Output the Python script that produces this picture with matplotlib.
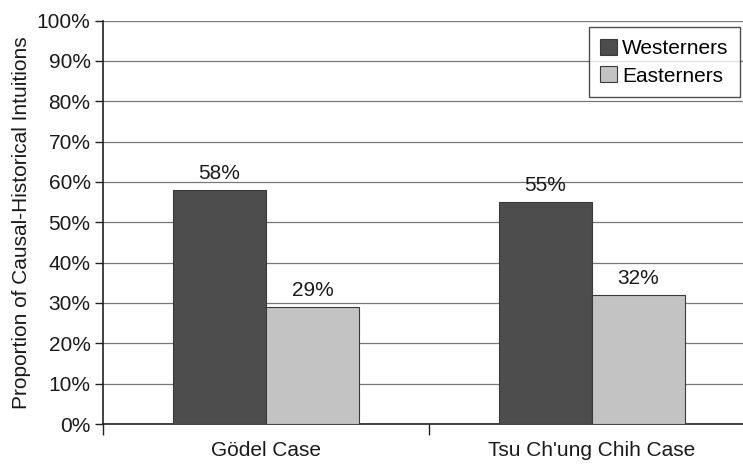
import matplotlib
matplotlib.use("Agg")
import matplotlib.pyplot as plt
import numpy as np

plt.rcParams['font.family'] = ['Liberation Sans', 'DejaVu Sans']

categories = ["Gödel Case", "Tsu Ch'ung Chih Case"]
series_names = ["Westerners", "Easterners"]
westerners = [58, 55]
easterners = [29, 32]
yticks = [0, 10, 20, 30, 40, 50, 60, 70, 80, 90, 100]

colors = ["#4d4d4d", "#c3c3c3"]
fs = 15

fig = plt.figure(figsize=(7.43, 4.66), dpi=100)
ax = fig.add_axes([103 / 743, 1 - 424 / 466, 652 / 743, (424 - 20.5) / 466])

x = np.arange(len(categories))
w = 0.285
b1 = ax.bar(x - w / 2, westerners, w, color=colors[0], edgecolor="#3a3a3a",
            linewidth=0.8, label=series_names[0], zorder=3)
b2 = ax.bar(x + w / 2, easterners, w, color=colors[1], edgecolor="#3a3a3a",
            linewidth=0.8, label=series_names[1], zorder=3)

for bars, vals in ((b1, westerners), (b2, easterners)):
    for rect, v in zip(bars, vals):
        ax.annotate(f"{v}%", (rect.get_x() + rect.get_width() / 2, v),
                    xytext=(0, 5), textcoords="offset points",
                    ha="center", va="bottom", fontsize=fs, color="#1a1a1a", zorder=4)

ax.set_xlim(-0.5, len(categories) - 0.5)
ax.set_ylim(0, 100)
ax.set_yticks(yticks)
ax.set_yticklabels([f"{t}%" for t in yticks], fontsize=fs, color="#1a1a1a")
ax.yaxis.grid(True, color="#777777", linewidth=0.9, zorder=0)
ax.set_axisbelow(True)

ax.set_xticks(x)
ax.set_xticklabels(categories, fontsize=fs, color="#1a1a1a")
ax.set_xticks(np.arange(-0.5, len(categories), 1.0), minor=True)
ax.tick_params(axis="x", which="major", length=0, pad=12)
ax.tick_params(axis="x", which="minor", length=8, width=1, color="#222222", direction="out")
ax.tick_params(axis="y", length=6, width=1, color="#222222", direction="out", pad=3)

for s in ("top", "right"):
    ax.spines[s].set_visible(False)
for s in ("left", "bottom"):
    ax.spines[s].set_color("#222222")
    ax.spines[s].set_linewidth(1.2)

ax.set_ylabel("Proportion of Causal-Historical Intuitions", fontsize=fs,
              color="#1a1a1a", labelpad=4)

leg = ax.legend(loc="upper right", bbox_to_anchor=((740 - 103) / 652, 0.983),
                bbox_transform=ax.transAxes, fontsize=fs, frameon=True, fancybox=False,
                edgecolor="#222222", handlelength=0.8, handleheight=0.8,
                handletextpad=0.25, borderpad=0.55, labelspacing=0.4, borderaxespad=0)
leg.get_frame().set_linewidth(1.0)
leg.set_zorder(5)

fig.savefig("out.png", dpi=100)
